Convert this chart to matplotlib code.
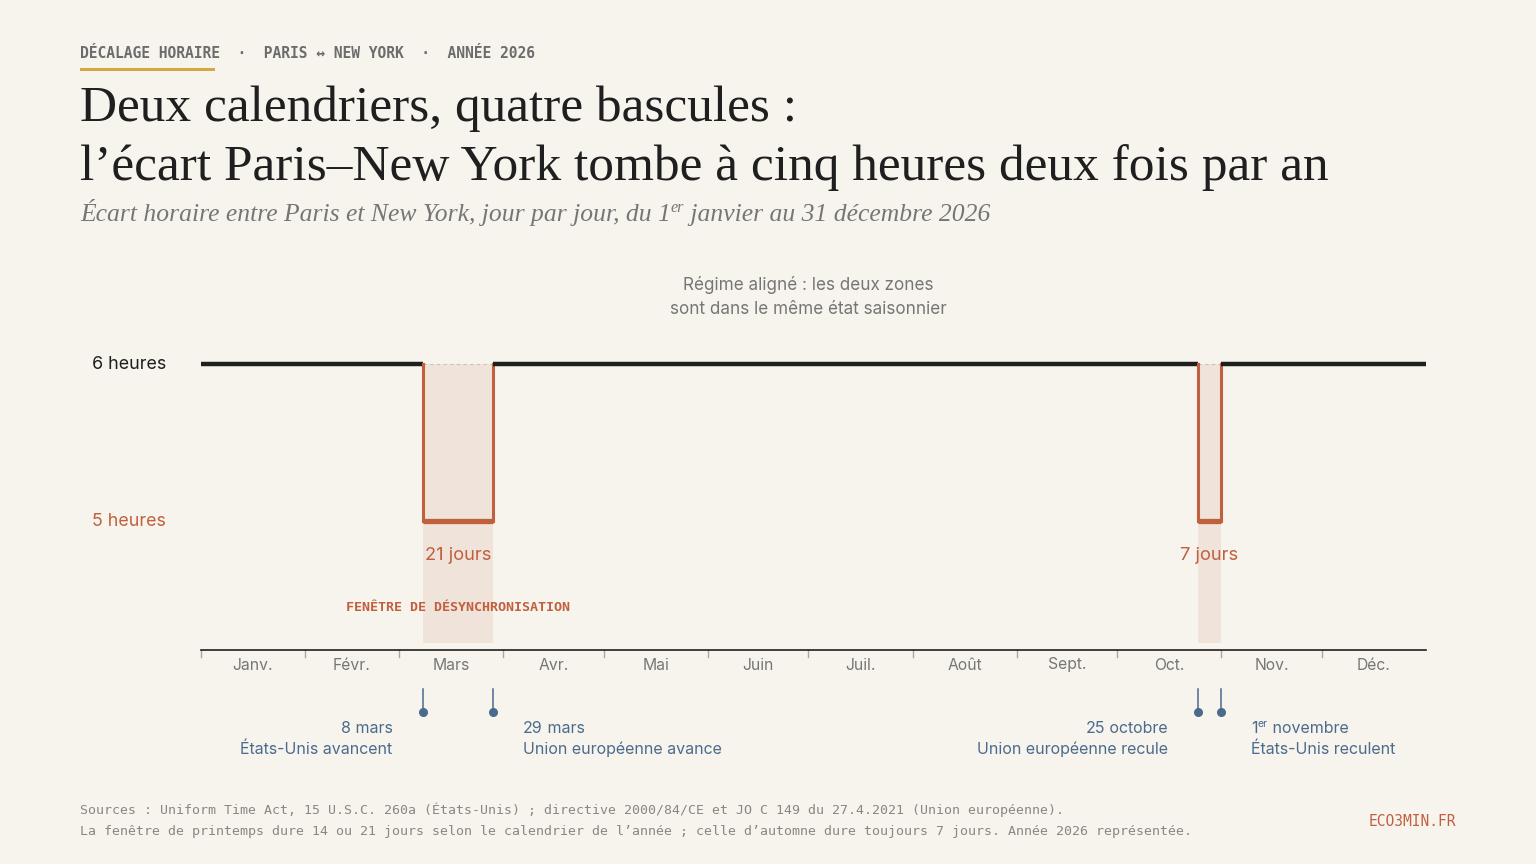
import matplotlib
matplotlib.use('Agg')
import matplotlib.pyplot as plt
from matplotlib.patches import Rectangle
from matplotlib.transforms import blended_transform_factory

W, H = 1536, 864

BG = '#f7f4ee'
INK = '#1f1f1f'
RUST = '#c0603f'
SHADE = '#efe3da'
SLATE = '#4a6b8c'
GREY = '#767676'
LIGHT = '#a9a6a0'
GOLD = '#d4a843'

SANS = ['Inter', 'DejaVu Sans']
SERIF = ['Liberation Serif', 'DejaVu Serif']
MONO = ['DejaVu Sans Mono']

# ── data ──
MONTHS = ['Janv.', 'Févr.', 'Mars', 'Avr.', 'Mai', 'Juin',
          'Juil.', 'Août', 'Sept.', 'Oct.', 'Nov.', 'Déc.']
MONTH_DAYS = [31, 28, 31, 30, 31, 30, 31, 31, 30, 31, 30, 31]

# step series: day index in 2026 (0 = 1er janvier) where the gap changes
STEP_DAYS = [0, 66, 87, 297, 304, 365]
STEP_GAP = [6, 5, 6, 5, 6]  # hours

EVENT_DAYS = [66, 87, 297, 304]
EVENT_DATE = [('8', ' mars'), ('29', ' mars'), ('25', ' octobre'), ('1', ' novembre')]
EVENT_SUP = ['', '', '', 'er']
EVENT_WHO = ['États-Unis avancent', 'Union européenne avance',
             'Union européenne recule', 'États-Unis reculent']
EVENT_SIDE = ['right', 'left', 'right', 'left']


def fx(px):
    return px / W


def fy(py):
    return 1 - py / H


fig = plt.figure(figsize=(W / 100, H / 100), dpi=100)
fig.patch.set_facecolor(BG)
ax = fig.add_axes([fx(201), fy(650), fx(1426) - fx(201), (650 - 270) / H])
ax.set_facecolor(BG)
ax.set_xlim(0, 365)
ax.set_ylim(4.18, 6.6)
for s in ax.spines.values():
    s.set_visible(False)
ax.set_xticks([])
ax.set_yticks([])

xfig = blended_transform_factory(ax.transData, fig.transFigure)

# ── step line ──
for i, g in enumerate(STEP_GAP):
    x0, x1 = STEP_DAYS[i], STEP_DAYS[i + 1]
    if g == 6:
        ax.plot([x0, x1], [g, g], color=INK, lw=3.2, solid_capstyle='butt', zorder=4)
    else:
        ax.fill_between([x0, x1], 4.225, 6, color=SHADE, lw=0, zorder=1)
        ax.plot([x0, x1], [6, 6], color='#c9c2b8', lw=0.8, ls=(0, (3, 3)), zorder=2)
        ax.plot([x0, x0, x1, x1], [6, g, g, 6], color=RUST, lw=2.2,
                solid_joinstyle='miter', zorder=4)
        ax.plot([x0, x1], [g, g], color=RUST, lw=3.8, solid_capstyle='butt', zorder=5)
        ax.text((x0 + x1) / 2, g - 0.22, f'{x1 - x0} jours', color=RUST,
                fontsize=13.2, family=SANS, ha='center', va='center', zorder=6)

ax.text(STEP_DAYS[1] + 10.5, 4.45, 'FENÊTRE DE DÉSYNCHRONISATION', color=RUST,
        fontsize=9.6, family=MONO, fontweight='bold', ha='center', va='center', zorder=6)

ax.text(181, 6.0 + (364 - 297) / 157, 'Régime aligné : les deux zones\nsont dans le même état saisonnier',
        color=GREY, fontsize=12.3, family=SANS, ha='center', va='center', linespacing=1.55)

# y labels
ax.text(-35 / 3.356, 6, '6 heures', color=INK, fontsize=12.9, family=SANS, ha='right', va='center')
ax.text(-35 / 3.356, 5, '5 heures', color=RUST, fontsize=12.9, family=SANS, ha='right', va='center')

# ── month axis ──
ax.axhline(4.18, color=INK, lw=1.2, zorder=3, clip_on=False)
edges = [0]
for d in MONTH_DAYS:
    edges.append(edges[-1] + d)
for e in edges[:-1]:
    ax.plot([e, e], [fy(650), fy(657)], color=LIGHT, lw=1, transform=xfig, clip_on=False)
for i, m in enumerate(MONTHS):
    ax.text((edges[i] + edges[i + 1]) / 2, fy(665), m, color=GREY, fontsize=11.3,
            family=SANS, ha='center', va='center', transform=xfig)

# ── event markers ──
fig.canvas.draw()
renderer = fig.canvas.get_renderer()


def runs(x_px, base_px, parts, align='left'):
    """draw text parts in sequence; parts = (text, size, dy_px, family, color, style)"""
    made = []
    for txt, size, dy, fam, col, sty in parts:
        t = fig.text(0, 0, txt, fontsize=size, family=fam, color=col, style=sty,
                     va='baseline', ha='left')
        made.append((t, dy))
    widths = [t.get_window_extent(renderer).width for t, _ in made]
    x = x_px - sum(widths) if align == 'right' else x_px
    for (t, dy), w in zip(made, widths):
        t.set_position((fx(x), fy(base_px - dy)))
        x += w


for d, (num, rest), sup, who, side in zip(EVENT_DAYS, EVENT_DATE, EVENT_SUP, EVENT_WHO, EVENT_SIDE):
    ax.plot([d, d], [fy(689), fy(712)], color=SLATE, lw=1.1, transform=xfig, clip_on=False)
    ax.plot([d], [fy(712)], 'o', color=SLATE, ms=5.5, transform=xfig, clip_on=False)
    xp = ax.transData.transform((d, 5))[0]
    xt = xp - 30 if side == 'right' else xp + 30
    parts = [(num, 11.5, 0, SANS, SLATE, 'normal')]
    if sup:
        parts.append((sup, 7.5, 6, SANS, SLATE, 'normal'))
    parts.append((rest, 11.5, 0, SANS, SLATE, 'normal'))
    runs(xt, 733, parts, align=side)
    fig.text(fx(xt), fy(754), who, fontsize=11.5, family=SANS, color=SLATE,
             ha=side, va='baseline')

# ── header ──
fig.text(fx(80), fy(58), 'DÉCALAGE HORAIRE  ·  PARIS ↔ NEW YORK  ·  ANNÉE 2026',
         fontsize=10.55, family=MONO, color='#6c6c6c', fontweight='bold', va='baseline')
fig.add_artist(Rectangle((fx(80), fy(71)), fx(215) - fx(80), 3 / H, color=GOLD, lw=0,
                         transform=fig.transFigure))

fig.text(fx(80), fy(121), 'Deux calendriers, quatre bascules :', fontsize=37,
         family=SERIF, color=INK, va='baseline')
fig.text(fx(80), fy(180), 'l’écart Paris–New York tombe à cinq heures deux fois par an',
         fontsize=37, family=SERIF, color=INK, va='baseline')

runs(80, 221, [
    ('Écart horaire entre Paris et New York, jour par jour, du 1', 18.45, 0, SERIF, GREY, 'italic'),
    ('er', 11.6, 9, SERIF, GREY, 'italic'),
    (' janvier au 31 décembre 2026', 18.45, 0, SERIF, GREY, 'italic'),
])

# ── footer ──
fig.text(fx(80), fy(810), 'Sources : Uniform Time Act, 15 U.S.C. 260a (États-Unis) ; directive 2000/84/CE '
         'et JO C 149 du 27.4.2021 (Union européenne).',
         fontsize=9.55, family=MONO, color='#8a8782', va='center')
fig.text(fx(80), fy(832), 'La fenêtre de printemps dure 14 ou 21 jours selon le calendrier de l’année ; '
         'celle d’automne dure toujours 7 jours. Année 2026 représentée.',
         fontsize=9.55, family=MONO, color='#8a8782', va='center')
fig.text(fx(1456), fy(821), 'ECO3MIN.FR', fontsize=10.5, family=MONO, color=RUST,
         ha='right', va='center')

fig.savefig('out.png', dpi=100, facecolor=BG)
